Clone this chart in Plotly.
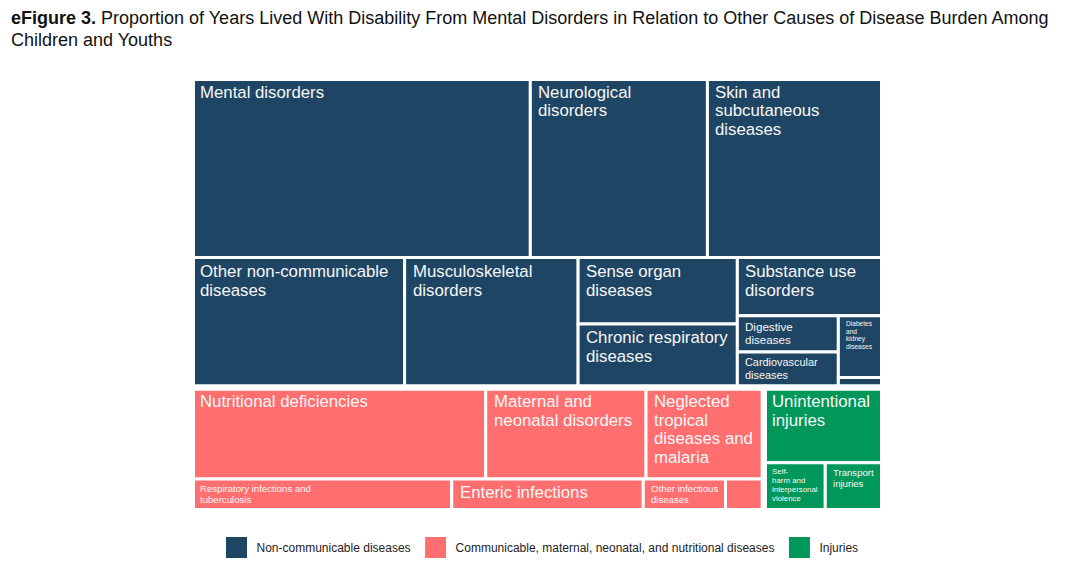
import plotly.graph_objects as go

# ---------------- data ----------------
group_names = [
    "Non-communicable diseases",
    "Communicable, maternal, neonatal, and nutritional diseases",
    "Injuries",
]

ncd_causes = [
    "Mental disorders", "Neurological disorders", "Skin and subcutaneous diseases",
    "Other non-communicable diseases", "Musculoskeletal disorders", "Sense organ diseases",
    "Chronic respiratory diseases", "Substance use disorders", "Digestive diseases",
    "Cardiovascular diseases", "Diabetes and kidney diseases", "Neoplasms",
]
ncd_values = [20.29, 10.62, 10.53, 9.24, 7.54, 3.54, 3.38, 2.84, 1.22, 1.20, 0.92, 0.15]

cmnn_causes = [
    "Nutritional deficiencies", "Maternal and neonatal disorders",
    "Neglected tropical diseases and malaria", "Respiratory infections and tuberculosis",
    "Enteric infections", "Other infectious diseases",
    "HIV/AIDS and sexually transmitted infections",
]
cmnn_values = [8.98, 4.90, 3.60, 2.78, 2.05, 0.88, 0.41]

inj_causes = ["Unintentional injuries", "Self-harm and interpersonal violence", "Transport injuries"]
inj_values = [3.00, 0.99, 0.93]

title_line1 = ("<b>eFigure 3.</b> Proportion of Years Lived With Disability From Mental Disorders "
               "in Relation to Other Causes of Disease Burden Among")
title_line2 = "Children and Youths"

# ---------------- styles ----------------
group_colors = ["#1F4564", "#FF6F6F", "#00975B"]

# displayed label lines (wrapping as in the figure); tiles too small show no label
label_lines = {
    "Mental disorders": ["Mental disorders"],
    "Neurological disorders": ["Neurological", "disorders"],
    "Skin and subcutaneous diseases": ["Skin and", "subcutaneous", "diseases"],
    "Other non-communicable diseases": ["Other non-communicable", "diseases"],
    "Musculoskeletal disorders": ["Musculoskeletal", "disorders"],
    "Sense organ diseases": ["Sense organ", "diseases"],
    "Chronic respiratory diseases": ["Chronic respiratory", "diseases"],
    "Substance use disorders": ["Substance use", "disorders"],
    "Digestive diseases": ["Digestive", "diseases"],
    "Cardiovascular diseases": ["Cardiovascular", "diseases"],
    "Diabetes and kidney diseases": ["Diabetes", "and", "kidney", "diseases"],
    "Neoplasms": [],
    "Nutritional deficiencies": ["Nutritional deficiencies"],
    "Maternal and neonatal disorders": ["Maternal and", "neonatal disorders"],
    "Neglected tropical diseases and malaria": ["Neglected", "tropical", "diseases and", "malaria"],
    "Respiratory infections and tuberculosis": ["Respiratory infections and", "tuberculosis"],
    "Enteric infections": ["Enteric infections"],
    "Other infectious diseases": ["Other infectious", "diseases"],
    "HIV/AIDS and sexually transmitted infections": [],
    "Unintentional injuries": ["Unintentional", "injuries"],
    "Self-harm and interpersonal violence": ["Self-", "harm and", "interpersonal", "violence"],
    "Transport injuries": ["Transport", "injuries"],
}
label_size = {
    "Digestive diseases": 11.6,
    "Cardiovascular diseases": 10.9,
    "Diabetes and kidney diseases": 6.6,
    "Respiratory infections and tuberculosis": 9.6,
    "Other infectious diseases": 9.6,
    "Self-harm and interpersonal violence": 7.9,
    "Transport injuries": 9.6,
}
BIG = 16.8
FONT = "Liberation Sans, Arial, sans-serif"

# plot area in pixels
ML, MR, MT, MB = 192, 197, 78, 55
W, H = 1080, 566
PW, PH = W - ML - MR, H - MT - MB


# ---------------- squarified layout (unit square, first row horizontal) ----------------
def worst(row, side):
    s = sum(row)
    t = s / side
    r = 0
    for v in row:
        length = v / t
        r = max(r, length / t, t / length)
    return r


def squarify(values, x, y, w, h):
    tot = sum(values)
    area = w * h
    vals = [v * area / tot for v in values]
    rects = []
    first = True
    i = 0
    while i < len(vals):
        horizontal = True if first else (w <= h)
        side = w if horizontal else h
        row = [vals[i]]
        j = i + 1
        while j < len(vals) and worst(row + [vals[j]], side) <= worst(row, side):
            row.append(vals[j])
            j += 1
        t = sum(row) / side
        pos = 0.0
        for v in row:
            length = v / t
            if horizontal:
                rects.append((x + pos, y, length, t))
            else:
                rects.append((x, y + pos, t, length))
            pos += length
        if horizontal:
            y += t
            h -= t
        else:
            x += t
            w -= t
        i = j
        first = False
    return rects


groups = [
    (ncd_causes, ncd_values),
    (cmnn_causes, cmnn_values),
    (inj_causes, inj_values),
]
group_totals = [sum(v) for _, v in groups]
group_rects = squarify(group_totals, 0.0, 0.0, 1.0, 1.0)

fig = go.Figure()
annotations = []

for gi, ((causes, values), grect) in enumerate(zip(groups, group_rects)):
    gx, gy, gw, gh = grect
    cells = squarify(values, gx, gy, gw, gh)
    for name, val, (cx, cy, cw, ch) in zip(causes, values, cells):
        fig.add_trace(go.Scatter(
            x=[cx, cx + cw, cx + cw, cx, cx],
            y=[cy, cy, cy + ch, cy + ch, cy],
            mode="lines", fill="toself", fillcolor=group_colors[gi],
            line=dict(color="white", width=3),
            name=name, showlegend=False, hoveron="fills",
            text=f"{name}: {val}%", hoverinfo="text",
        ))
        lines = label_lines.get(name, [])
        size = label_size.get(name, BIG)
        lh = size * 1.09 + 0.4
        for k, ln in enumerate(lines):
            annotations.append(dict(
                x=cx, y=cy, xref="x", yref="y", xanchor="left", yanchor="top",
                text=ln, showarrow=False, xshift=7, yshift=-(3.5 + k * lh),
                font=dict(family=FONT, size=size, color="#F7F7F7"),
                borderpad=0,
            ))

# group outlines (thicker white separators)
for grect in group_rects:
    gx, gy, gw, gh = grect
    fig.add_trace(go.Scatter(
        x=[gx, gx + gw, gx + gw, gx, gx],
        y=[gy, gy, gy + gh, gy + gh, gy],
        mode="lines", line=dict(color="white", width=6),
        showlegend=False, hoverinfo="skip",
    ))

# legend entries
for name, col in zip(group_names, group_colors):
    fig.add_trace(go.Scatter(
        x=[None], y=[None], mode="markers", name=name,
        marker=dict(symbol="square", size=16, color=col, line=dict(color=col, width=5)),
        showlegend=True,
    ))

# title as two annotations (paper coords derived from pixel positions)
for txt, py in ((title_line1, 18), (title_line2, 40)):
    annotations.append(dict(
        x=(10 - ML) / PW, y=(H - MB - py) / PH, xref="paper", yref="paper",
        xanchor="left", yanchor="middle", text=txt, showarrow=False,
        font=dict(family=FONT, size=18, color="#111111"), borderpad=0,
    ))

fig.update_layout(
    width=W, height=H,
    margin=dict(l=ML, r=MR, t=MT, b=MB, autoexpand=False),
    paper_bgcolor="white", plot_bgcolor="white",
    xaxis=dict(range=[0, 1], visible=False, fixedrange=True),
    yaxis=dict(range=[1, 0], visible=False, fixedrange=True),
    annotations=annotations,
    legend=dict(
        orientation="h", xref="container", yref="container",
        x=0.5, xanchor="center", y=1 - 547.5 / 566, yanchor="middle",
        font=dict(family=FONT, size=12, color="#222222"),
        itemsizing="trace",
    ),
    showlegend=True,
)

fig.write_html(
    "out.html",
    config={"displayModeBar": False},
    post_script="document.body.style.margin='0px';",
)
